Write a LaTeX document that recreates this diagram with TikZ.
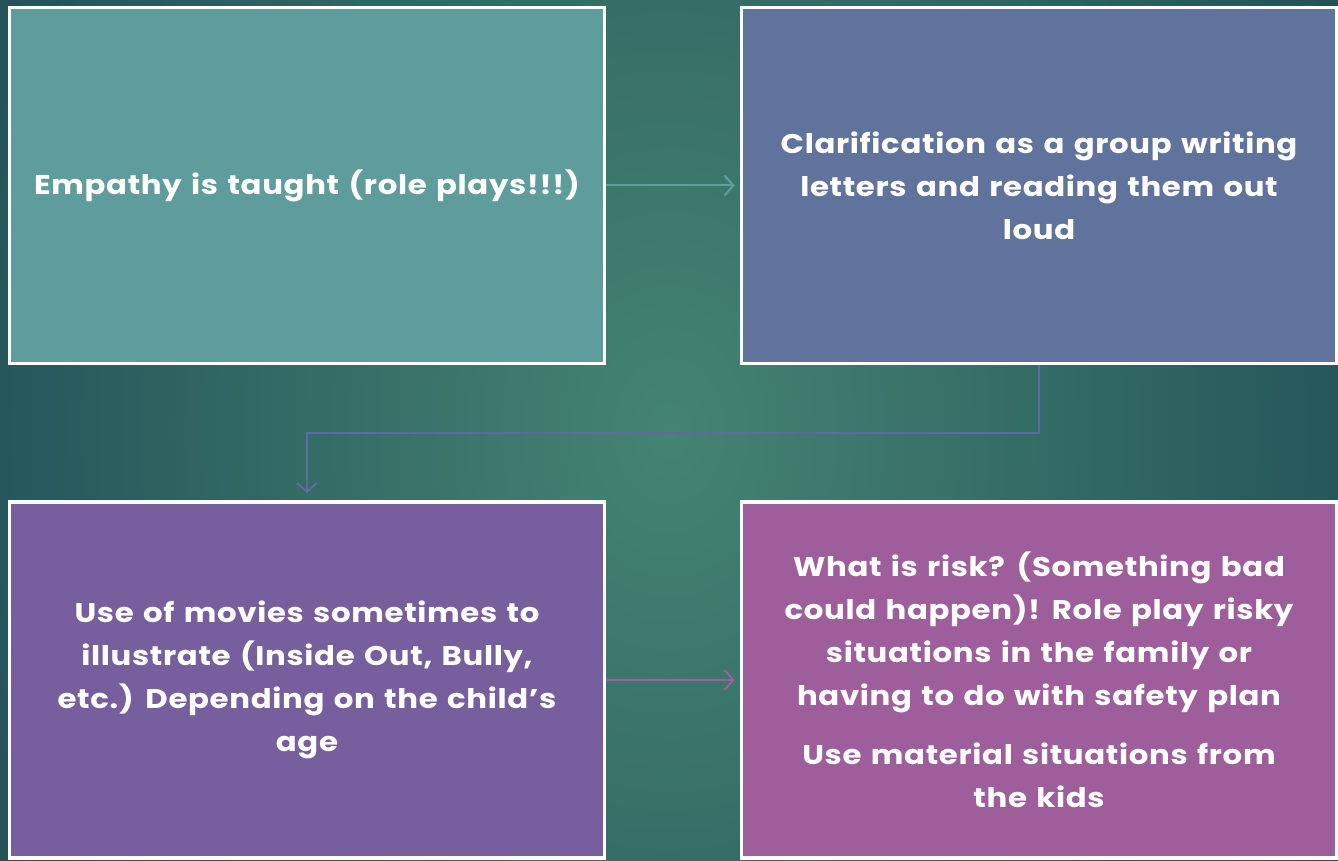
\documentclass[tikz,border=0pt]{standalone}
\usepackage{fontspec}
\setmainfont{Poppins}[FakeStretch=1.14, LetterSpace=2.5, WordSpace=1.3]
\usetikzlibrary{arrows.meta}
\definecolor{bgin}{HTML}{448472}
\definecolor{bgout}{HTML}{1E4B55}
\definecolor{cA}{HTML}{5F9C9C}
\definecolor{cB}{HTML}{60739C}
\definecolor{cC}{HTML}{775E9C}
\definecolor{cD}{HTML}{9E5E9C}
\definecolor{aA}{HTML}{5FA09C}
\definecolor{aB}{HTML}{5F6AA0}
\definecolor{aC}{HTML}{A060A0}
\tikzset{
  box/.style={draw=white, line width=3.5pt, minimum width=595pt, minimum height=356pt,
    text=white, align=center, inner sep=0pt,
    font=\fontsize{27}{43}\selectfont\bfseries},
  conn/.style={line width=2pt, -{Straight Barb[length=9pt,width=20pt,line width=2pt]}}
}
\begin{document}
\begin{tikzpicture}[x=1pt,y=-1pt]
\useasboundingbox (0,0) rectangle (1338,861);
\shade[inner color=bgin, outer color=bgout] (-180,-680) rectangle (1518,1541);
\node[box, fill=cA] (b1) at (307,185.5) {Empathy is taught (role plays!!!)};
\node[box, fill=cB] (b2) at (1039,185.5) {Clarification as a group writing\\letters and reading them out\\loud};
\node[box, fill=cC] (b3) at (307,680) {Use of movies sometimes to\\illustrate (Inside Out, Bully,\\etc.) Depending on the child’s\\age};
\node[box, fill=cD] (b4) at (1039,680) {What is risk? (Something bad\\could happen)! Role play risky\\situations in the family or\\having to do with safety plan\\[16pt]Use material situations from\\the kids};
\draw[conn, draw=aA, shorten >=5pt] (b1) -- (b2);
\draw[conn, draw=aB, shorten >=7pt] (b2.south) -- ++(0,68) coordinate (k) -| (b3.north);
\draw[conn, draw=aC, shorten >=5pt] (b3) -- (b4);
\end{tikzpicture}
\end{document}
